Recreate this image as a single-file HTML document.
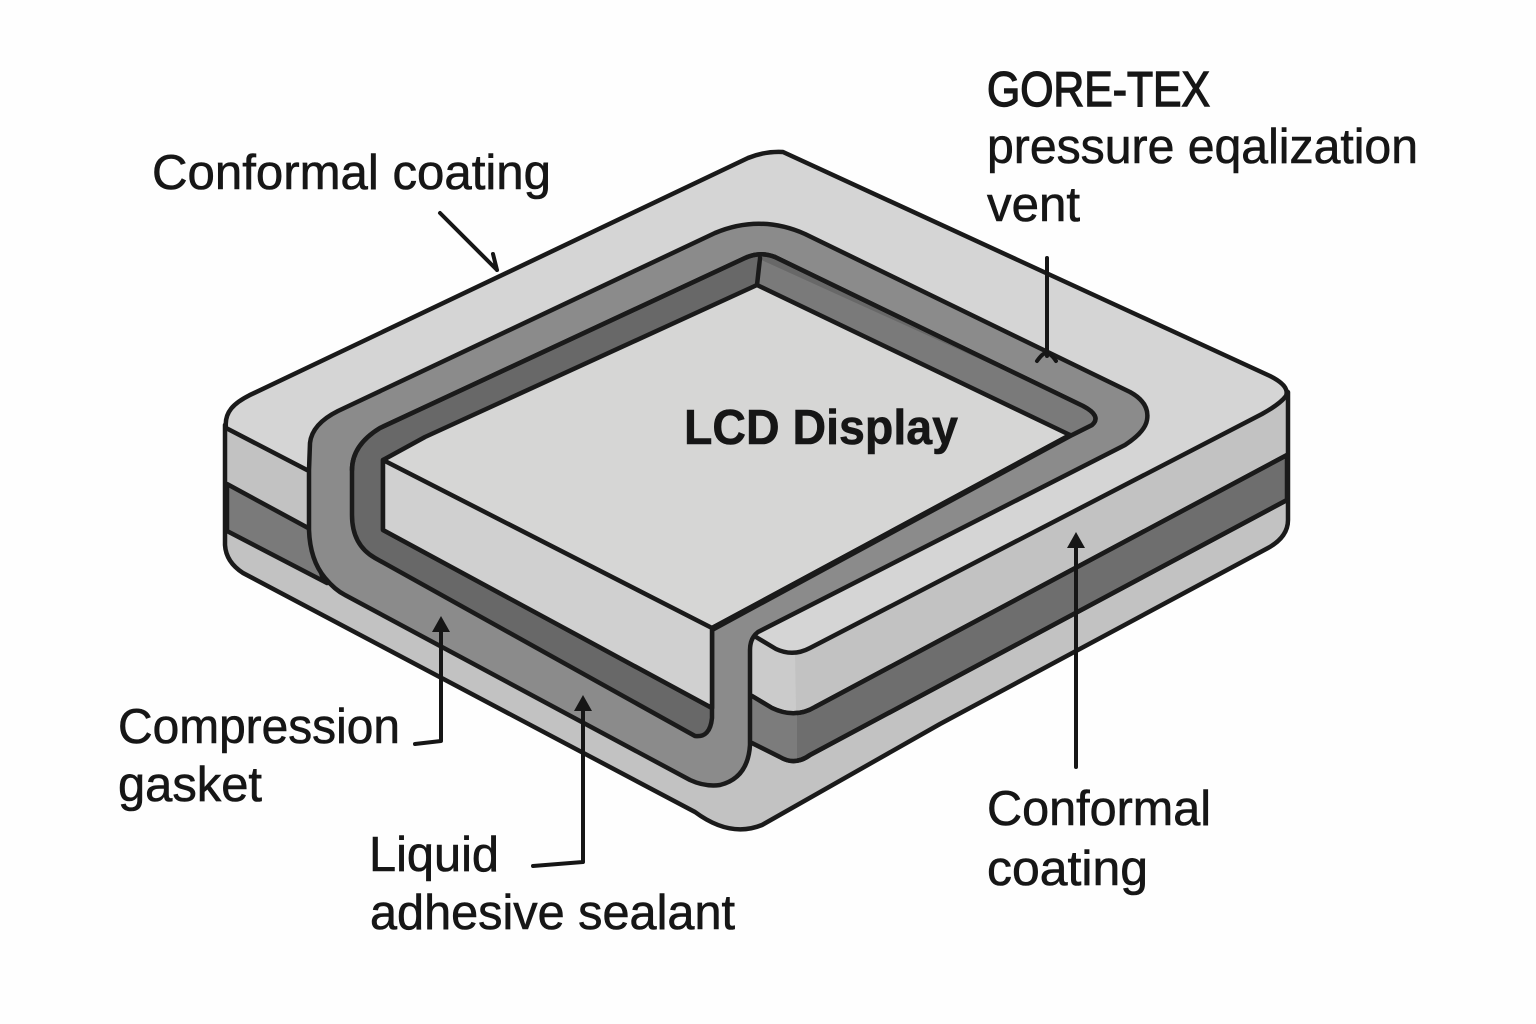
<!DOCTYPE html>
<html><head><meta charset="utf-8"><style>html,body{margin:0;padding:0;background:#fefefe}svg{display:block}text{font-family:"Liberation Sans",sans-serif;font-size:49px;fill:#161616;stroke:#161616;stroke-width:.6px}</style></head><body>
<svg width="1536" height="1024" viewBox="0 0 1536 1024" xmlns="http://www.w3.org/2000/svg">
<rect width="1536" height="1024" fill="#fefefe"/>
<g stroke="#1a1a1a" stroke-width="4.5" stroke-linejoin="round" stroke-linecap="round">
<!-- body silhouette -->
<path d="M225,425 L225,545 Q226,562 243,573 L695,812 Q730,838 762,825 L940,724 L1268,548 Q1288,537 1288,520 L1288,392 L780,155 L250,395 Z" fill="#c2c2c2"/>
<path d="M752,640 L795,653 L797,765 L752,745 Z" fill="#cbcbcb" stroke="none"/>
<!-- dark bands -->
<path d="M227,484 L310,529 L322,576 L327,583 L227,531 Z" fill="#7a7a7a"/>
<path d="M752,696 L772,708 Q795,719 815,707 L1287,455 L1287,500 L810,755 Q795,766 780,757 L752,743 Z" fill="#6e6e6e"/>
<path d="M752,696 L772,708 Q785,714 797,714 L797,762 Q788,762 780,757 L752,743 Z" fill="#7c7c7c" stroke="none"/>
<path d="M752,696 L772,708 Q795,719 815,707 L1287,455" fill="none"/>
<path d="M752,743 L780,757 Q795,766 810,755 L1287,500" fill="none"/>
<!-- top surface -->
<path d="M226,428 C224,412 234,403 250,395 L748,158 Q765,151 783,152 L1270,376 Q1290,386 1286,396 Q1280,404 1262,414 L810,648 Q793,657 776,649 L756,637 L700,600 L400,500 L307,470 Z" fill="#d5d5d5"/>
<!-- gasket -->
<path d="M309,470 L310,443 Q312,424 338,411 L715,233 Q760,214 805,234 L1130,392 Q1150,403 1147,420 Q1145,432 1125,445 L758,632 Q750,638 750,650 L750,745 Q748,778 720,785 Q705,787 690,780 L345,595 Q335,590 325,578 Q310,560 309,530 Z" fill="#8b8b8b"/>
<!-- sealant -->
<path d="M352,470 Q352,445 380,428 L745,258 Q760,251 775,257 L1083,406 Q1102,416 1092,425 L1072,435 L712,630 L712,718 Q710,738 695,736 L375,558 Q352,545 352,515 Z" fill="#686868"/>
<path d="M757,258 L1083,406 Q1102,416 1092,425 L1072,435 L757,287 Z" fill="#7a7a7a" stroke="none"/>
<path d="M352,470 Q352,445 380,428 L745,258 Q760,251 775,257 L1083,406 Q1102,416 1092,425 L1072,435" fill="none"/>
<!-- display -->
<path d="M383,460 L383,530 L712,708 L712,628 L1070,435 L757,285 L425,437 Z" fill="#d6d6d5"/>
<path d="M383,460 L712,628 L712,708 L383,530 Z" fill="#d0d0d0"/>
<path d="M757,285 L760,258" fill="none"/>
<path d="M712,628 L1070,435" fill="none"/>
</g>
<!-- arrows -->
<g fill="none" stroke="#161616" stroke-width="4" stroke-linejoin="round" stroke-linecap="round">
<path d="M440,213 L497,270 M493,254 L497,270"/>
<path d="M1047,258 L1047,356 M1037,361 Q1045,350 1047,355 Q1050,352 1056,361"/>
<path d="M415,744 L441,741 L441,628"/>
<path d="M533,866 L583,862 L583,705"/>
<path d="M1076,767 L1076,542"/>
</g>
<g fill="#161616">
<path d="M441,616 L432,632 L450,632 Z"/>
<path d="M583,695 L574,711 L592,711 Z"/>
<path d="M1076,532 L1067,548 L1085,548 Z"/>
</g>
<!-- text -->
<text x="152" y="189" textLength="399" lengthAdjust="spacingAndGlyphs">Conformal coating</text>
<text x="987" y="106" textLength="223" lengthAdjust="spacingAndGlyphs" style="stroke-width:1.4px">GORE-TEX</text>
<text x="987" y="163" textLength="431" lengthAdjust="spacingAndGlyphs">pressure eqalization</text>
<text x="987" y="221" textLength="93" lengthAdjust="spacingAndGlyphs">vent</text>
<text x="684" y="444" textLength="274" lengthAdjust="spacingAndGlyphs" font-weight="bold">LCD Display</text>
<text x="118" y="743" textLength="282" lengthAdjust="spacingAndGlyphs">Compression</text>
<text x="118" y="801" textLength="144" lengthAdjust="spacingAndGlyphs">gasket</text>
<text x="369" y="871" textLength="130" lengthAdjust="spacingAndGlyphs">Liquid</text>
<text x="370" y="929" textLength="365" lengthAdjust="spacingAndGlyphs">adhesive sealant</text>
<text x="987" y="825" textLength="224" lengthAdjust="spacingAndGlyphs">Conformal</text>
<text x="987" y="885" textLength="161" lengthAdjust="spacingAndGlyphs">coating</text>
</svg>
</body></html>
